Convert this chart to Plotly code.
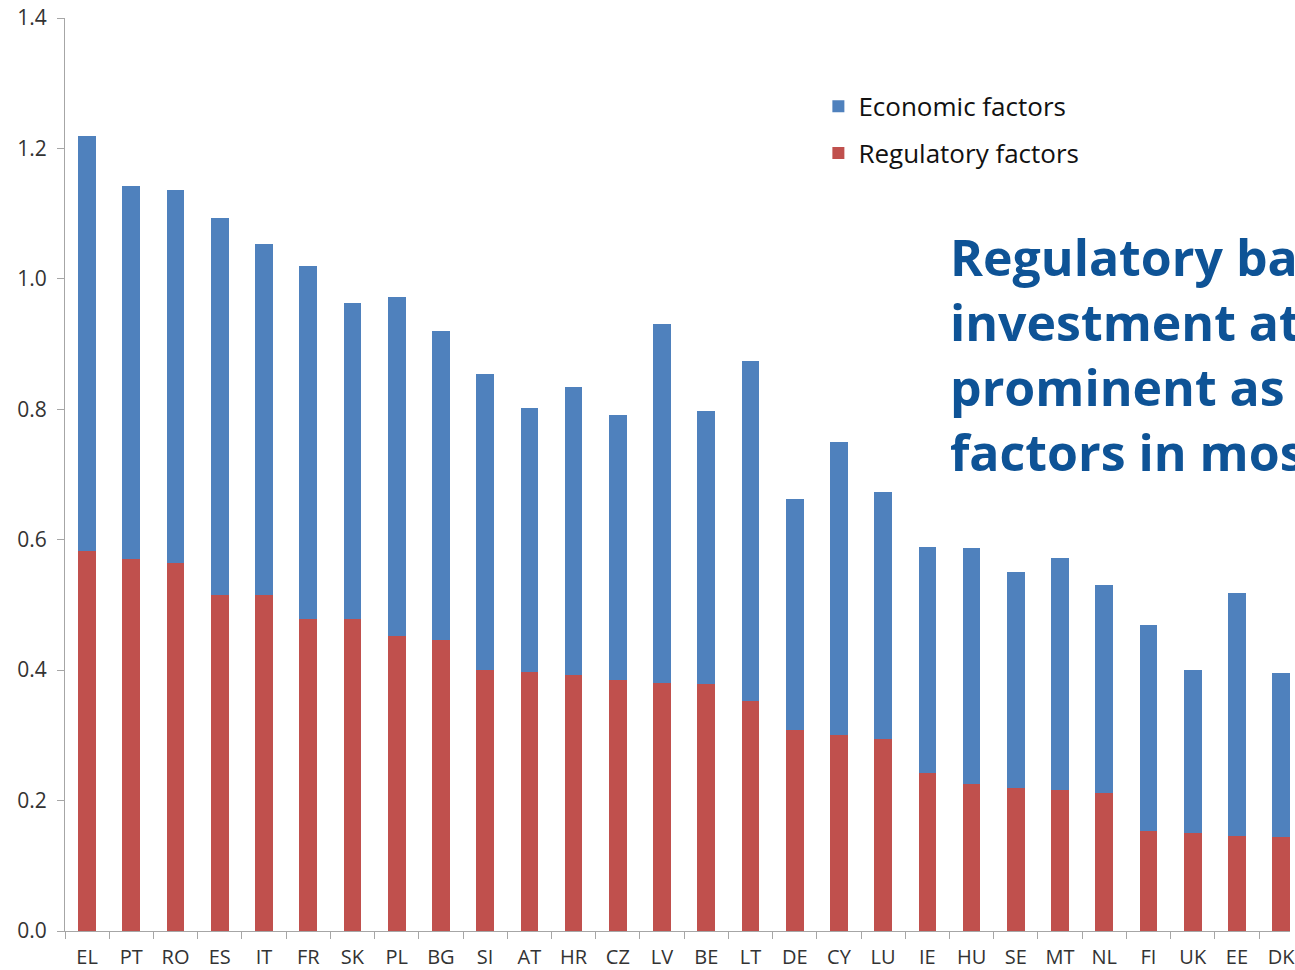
import plotly.graph_objects as go

countries = ["EL", "PT", "RO", "ES", "IT", "FR", "SK", "PL", "BG", "SI", "AT", "HR", "CZ", "LV",
             "BE", "LT", "DE", "CY", "LU", "IE", "HU", "SE", "MT", "NL", "FI", "UK", "EE", "DK"]
regulatory = [0.583, 0.570, 0.564, 0.515, 0.515, 0.479, 0.478, 0.452, 0.446, 0.400, 0.397, 0.392,
              0.385, 0.380, 0.378, 0.353, 0.308, 0.301, 0.294, 0.242, 0.225, 0.220, 0.216, 0.211,
              0.154, 0.150, 0.146, 0.144]
total = [1.219, 1.143, 1.137, 1.093, 1.054, 1.019, 0.963, 0.972, 0.920, 0.854, 0.802, 0.834,
         0.791, 0.931, 0.798, 0.874, 0.663, 0.750, 0.673, 0.589, 0.587, 0.550, 0.572, 0.530,
         0.469, 0.400, 0.518, 0.395]
economic = [round(t - r, 3) for t, r in zip(total, regulatory)]

y_ticks = [0.0, 0.2, 0.4, 0.6, 0.8, 1.0, 1.2, 1.4]
title_text = ("Regulatory barriers to<br>investment at least as<br>"
              "prominent as economic<br>factors in most Member States")

BLUE = "#4F81BD"
RED = "#C0504D"
FONT = "Open Sans, Lato, sans-serif"

fig = go.Figure()
fig.add_trace(go.Bar(x=countries, y=regulatory, name="Regulatory factors",
                     marker=dict(color=RED, line=dict(width=0)), width=0.4,
                     legendgroup="r", legendrank=2))
fig.add_trace(go.Bar(x=countries, y=economic, name="Economic factors",
                     marker=dict(color=BLUE, line=dict(width=0)), width=0.4,
                     legendgroup="e", legendrank=1))

fig.update_layout(
    width=1295, height=970,
    margin=dict(l=65, r=0, t=18, b=39),
    barmode="stack",
    plot_bgcolor="white", paper_bgcolor="white",
    font=dict(family=FONT, color="#222222", size=21),
    showlegend=True,
    legend=dict(x=0.615, y=0.929, xanchor="left", yanchor="top",
                traceorder="grouped", font=dict(size=26, color="#111111"),
                tracegroupgap=10, bgcolor="rgba(0,0,0,0)"),
    xaxis=dict(range=[-0.5, 27.2], showline=True, linecolor="#A6A6A6", linewidth=1,
               ticks="outside", tickson="boundaries", ticklen=7, tickcolor="#A6A6A6",
               showgrid=False, tickfont=dict(size=20, color="#333333"),
               ticklabelstandoff=8),
    yaxis=dict(range=[0, 1.4], tickvals=y_ticks, tickformat=".1f", showline=True,
               linecolor="#A6A6A6", linewidth=1, ticks="outside", ticklen=7,
               tickcolor="#A6A6A6", showgrid=False, zeroline=False,
               ticklabeloverflow="allow",
               tickfont=dict(size=21, color="#333333"), ticklabelstandoff=6),
    annotations=[dict(text="<b>" + title_text + "</b>", xref="paper", yref="paper",
                      x=0.721, y=0.778, xanchor="left", yanchor="top", align="left",
                      showarrow=False,
                      font=dict(size=50, color="#0E5396", family=FONT))],
)

fig.write_html(
    "out.html",
    config={"displayModeBar": False},
    post_script=("document.body.style.margin='0';"
                 "document.body.style.overflow='hidden';"
                 "document.documentElement.style.overflow='hidden';"),
)
